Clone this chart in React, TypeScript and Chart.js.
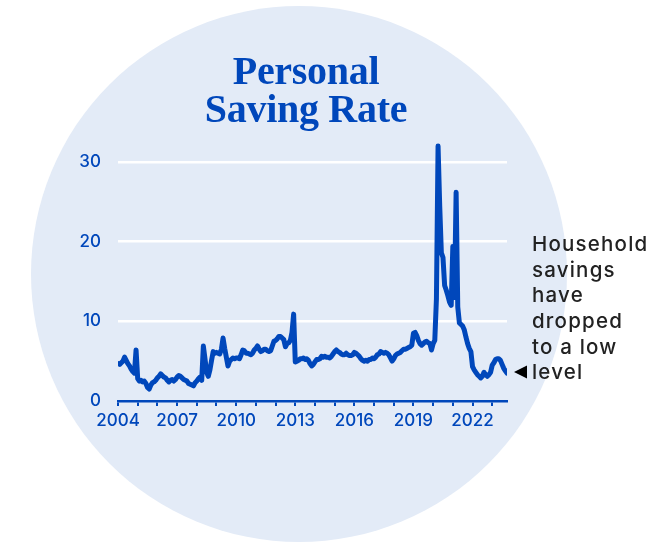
import React, { useEffect, useRef } from "react";
import { Chart, registerables } from "chart.js";

Chart.register(...registerables);

// ---- Data (monthly personal saving rate, %) ----
const START_YEAR = 2004;
const X_MAX = 2023.75;
const xLabelYears = [2004, 2007, 2010, 2013, 2016, 2019, 2022];
const yTickValues = [0, 10, 20, 30];
const titleLines = ["Personal", "Saving Rate"];
const noteLines = ["Household", "savings", "have", "dropped", "to a low", "level"];

const rate2004 = [4.7, 4.6, 4.8, 5.0, 5.5, 5.1, 4.7, 4.4, 4.0, 3.7, 3.5, 6.4];
const rate2005 = [2.8, 2.5, 2.6, 2.4, 2.5, 2.2, 1.7, 1.5, 2.0, 2.3, 2.4, 2.6];
const rate2006 = [2.9, 3.1, 3.4, 3.2, 3.0, 2.9, 2.6, 2.4, 2.6, 2.7, 2.5, 2.7];
const rate2007 = [3.0, 3.2, 3.1, 2.9, 2.7, 2.6, 2.5, 2.2, 2.1, 2.0, 1.9, 2.3];
const rate2008 = [2.5, 2.8, 3.0, 2.6, 6.9, 5.3, 3.6, 3.1, 3.9, 5.1, 6.2, 6.0];
const rate2009 = [6.1, 6.0, 5.9, 6.5, 7.9, 6.6, 5.5, 4.4, 5.0, 5.2, 5.4, 5.3];
const rate2010 = [5.4, 5.4, 5.3, 5.8, 6.4, 6.3, 6.0, 6.0, 5.9, 5.8, 6.0, 6.4];
const rate2011 = [6.6, 6.9, 6.5, 6.2, 6.3, 6.5, 6.5, 6.3, 6.2, 6.3, 6.9, 7.5];
const rate2012 = [7.6, 7.8, 8.1, 8.1, 7.9, 7.7, 6.8, 7.2, 7.3, 7.6, 8.6, 10.9];
const rate2013 = [4.9, 5.0, 5.1, 5.3, 5.3, 5.4, 5.2, 5.3, 5.1, 4.7, 4.4, 4.6];
const rate2014 = [4.9, 5.2, 5.2, 5.3, 5.6, 5.5, 5.6, 5.5, 5.5, 5.4, 5.6, 5.9];
const rate2015 = [6.2, 6.4, 6.2, 6.1, 5.9, 5.8, 5.8, 6.0, 5.8, 5.7, 5.7, 5.8];
const rate2016 = [6.1, 6.0, 5.8, 5.6, 5.3, 5.1, 5.0, 5.1, 5.0, 5.2, 5.2, 5.4];
const rate2017 = [5.3, 5.5, 5.8, 5.9, 6.2, 6.1, 6.0, 6.1, 6.0, 5.8, 5.4, 5.0];
const rate2018 = [5.3, 5.7, 5.9, 6.0, 6.1, 6.3, 6.5, 6.5, 6.6, 6.7, 6.8, 7.0];
const rate2019 = [8.5, 8.6, 8.2, 7.6, 7.2, 7.0, 7.2, 7.4, 7.5, 7.3, 7.2, 6.4];
const rate2020 = [7.2, 7.6, 12.8, 32.0, 24.5, 18.6, 18.0, 14.5, 13.9, 13.2, 12.4, 12.0];
const rate2021 = [19.4, 13.0, 26.2, 11.8, 9.8, 9.6, 9.4, 8.9, 8.0, 7.2, 6.6, 6.2];
const rate2022 = [4.3, 3.9, 3.6, 3.3, 3.1, 2.9, 3.1, 3.6, 3.3, 3.1, 3.3, 3.6];
const rate2023 = [4.5, 4.8, 5.2, 5.3, 5.3, 5.1, 4.6, 4.1, 3.8, 3.5];

const monthlyRates = [
  ...rate2004, ...rate2005, ...rate2006, ...rate2007, ...rate2008,
  ...rate2009, ...rate2010, ...rate2011, ...rate2012, ...rate2013,
  ...rate2014, ...rate2015, ...rate2016, ...rate2017, ...rate2018,
  ...rate2019, ...rate2020, ...rate2021, ...rate2022, ...rate2023,
];

const BLUE = "#0047bb";
const CIRCLE = "#e3ebf7";
const W = 656;
const H = 542;

export default function App() {
  const ref = useRef<HTMLCanvasElement>(null);

  useEffect(() => {
    const canvas = ref.current;
    if (!canvas) return;
    const points = monthlyRates.map((v, i) => ({ x: START_YEAR + i / 12, y: v }));

    const decor = {
      id: "decor",
      beforeDraw(chart: any) {
        const { ctx } = chart;
        ctx.save();
        ctx.fillStyle = "#ffffff";
        ctx.fillRect(0, 0, chart.width, chart.height);
        ctx.beginPath();
        ctx.arc(299, 274, 268, 0, Math.PI * 2);
        ctx.fillStyle = CIRCLE;
        ctx.fill();
        ctx.fillStyle = BLUE;
        ctx.font = "bold 40px 'Liberation Serif'";
        (ctx as any).letterSpacing = "-0.3px";
        ctx.textAlign = "center";
        ctx.textBaseline = "alphabetic";
        ctx.fillText(titleLines[0], 306, 84);
        ctx.fillText(titleLines[1], 306, 122);
        ctx.restore();
      },
      afterDraw(chart: any) {
        const { ctx } = chart;
        const last = monthlyRates[monthlyRates.length - 1];
        const ty = chart.scales.y.getPixelForValue(last) - 1;
        ctx.save();
        ctx.fillStyle = "#000000";
        ctx.beginPath();
        ctx.moveTo(514, ty);
        ctx.lineTo(527, ty - 6.5);
        ctx.lineTo(527, ty + 6.5);
        ctx.closePath();
        ctx.fill();
        ctx.fillStyle = "#222222";
        ctx.font = "500 20.5px Inter";
        (ctx as any).letterSpacing = "1.2px";
        ctx.textAlign = "left";
        ctx.textBaseline = "alphabetic";
        const lastBase = ty + 7;
        const n = noteLines.length;
        noteLines.forEach((t, i) => {
          ctx.fillText(t, 532, lastBase - (n - 1 - i) * 25.6);
        });
        ctx.restore();
      },
    };

    const chart = new Chart(canvas, {
      type: "line",
      data: {
        datasets: [
          {
            data: points,
            borderColor: BLUE,
            borderWidth: 5,
            pointRadius: 0,
            tension: 0,
            borderJoinStyle: "round",
            borderCapStyle: "round",
            fill: false,
          },
        ],
      },
      options: {
        responsive: false,
        animation: false,
        layout: { padding: { top: 138, right: 149, left: 0, bottom: 0 } },
        plugins: { legend: { display: false }, tooltip: { enabled: false }, title: { display: false } },
        scales: {
          x: {
            type: "linear",
            min: START_YEAR,
            max: X_MAX,
            afterFit(scale: any) {
              scale.height = H - 401;
            },
            ticks: {
              stepSize: 1,
              includeBounds: false,
              autoSkip: false,
              maxRotation: 0,
              padding: 5,
              color: BLUE,
              font: { family: "Inter", size: 17, weight: "500" },
              callback: (v: any) => (xLabelYears.includes(Number(v)) ? String(v) : ""),
            },
            grid: {
              drawOnChartArea: false,
              drawTicks: true,
              tickLength: 5,
              color: BLUE,
              lineWidth: 2,
            },
            border: { display: true, color: BLUE, width: 2.5 },
          },
          y: {
            type: "linear",
            min: 0,
            max: 33,
            afterFit(scale: any) {
              scale.width = 118;
            },
            afterBuildTicks(scale: any) {
              scale.ticks = yTickValues.map((v) => ({ value: v }));
            },
            ticks: {
              padding: 17,
              color: BLUE,
              font: { family: "Inter", size: 17, weight: "500" },
            },
            grid: {
              drawTicks: false,
              lineWidth: 2.5,
              color: (c: any) => (c.tick && c.tick.value === 0 ? "rgba(0,0,0,0)" : "#ffffff"),
            },
            border: { display: false },
          },
        },
      },
      plugins: [decor],
    });
    return () => chart.destroy();
  }, []);

  return (
    <div style={{ position: "absolute", left: 0, top: 0, width: W, height: H }}>
      <canvas ref={ref} width={W} height={H} style={{ width: W, height: H, display: "block" }} />
    </div>
  );
}
